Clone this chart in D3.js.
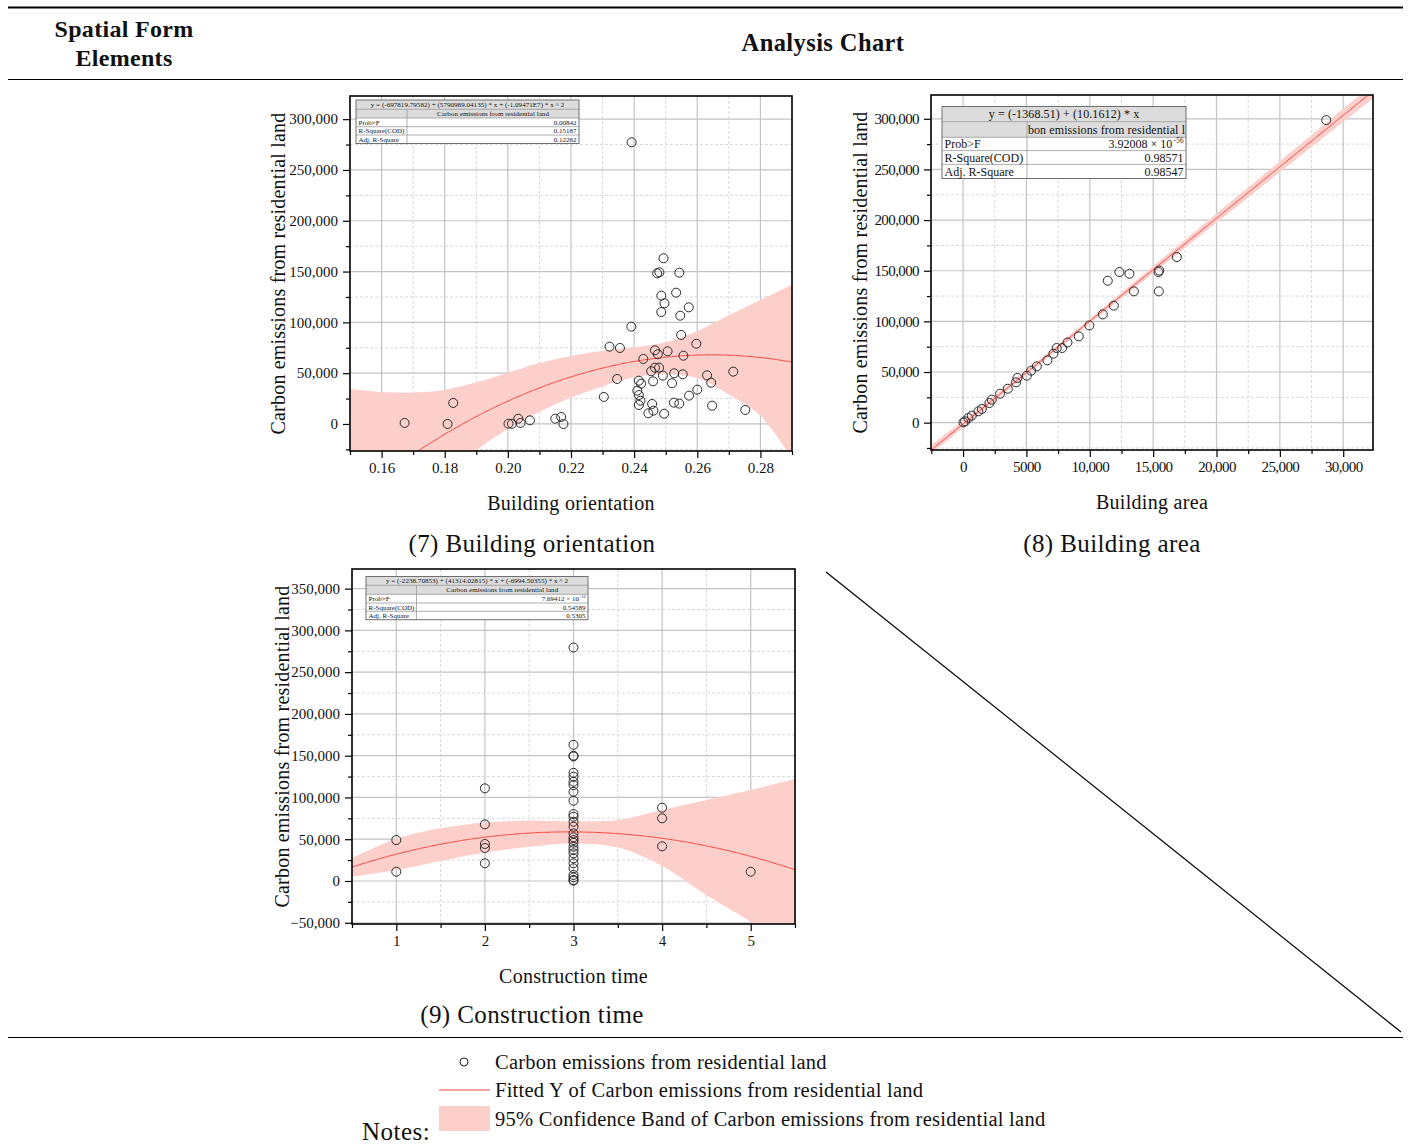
<!DOCTYPE html>
<html>
<head>
<meta charset="utf-8">
<script src="https://cdn.jsdelivr.net/npm/d3@7/dist/d3.min.js"></script>
<style>
  html, body { margin: 0; padding: 0; background: #fff; }
  svg { display: block; }
  text { font-family: "Liberation Serif", "DejaVu Serif", serif; fill: #111; }
</style>
</head>
<body>
<svg id="chart" width="1408" height="1146"></svg>
<script>
// ---------- (7) Building orientation ----------
const orientX = [0.1673, 0.1809, 0.1827, 0.2002, 0.2013, 0.2033, 0.2040, 0.2070, 0.2150, 0.2169, 0.2176,
  0.2392, 0.2493, 0.2473, 0.2480, 0.2543,
  0.2533, 0.2486, 0.2496, 0.2573, 0.2486, 0.2546, 0.2391, 0.2549, 0.2597, 0.2322, 0.2355, 0.2466,
  0.2506, 0.2475, 0.2556, 0.2429, 0.2466, 0.2479, 0.2454, 0.2491, 0.2527, 0.2554, 0.2631, 0.2346,
  0.2415, 0.2644, 0.2460, 0.2520, 0.2422, 0.2600, 0.2410, 0.2304, 0.2574, 0.2415, 0.2420, 0.2457,
  0.2415, 0.2526, 0.2543, 0.2647, 0.2461, 0.2445, 0.2495, 0.2714, 0.2752];
const orientY = [1000, 0, 20700, 300, 200, 5200, 1000, 3600, 5200, 6900, 0,
  277300, 163100, 148300, 149300, 148900,
  129200, 126300, 118800, 114800, 110200, 106600, 95800, 87600, 79000, 76100, 74800, 72500,
  71500, 68600, 67200, 64000, 55400, 55400, 51900, 47600, 49900, 48900, 47900, 44300,
  42600, 40600, 42000, 40100, 39700, 33800, 32800, 26600, 27900, 28500, 22900, 19700,
  18700, 21000, 20000, 18000, 13100, 10500, 10100, 51500, 13800];
const orientCoef = [-697819.79582, 5790989.04135, -1.09471e7];
const orientBandX = [0.15, 0.16, 0.17, 0.18, 0.19, 0.20, 0.21, 0.22, 0.23, 0.24, 0.25, 0.26, 0.27, 0.28, 0.29];
const orientBandLow = [-185000, -134000, -90000, -54000, -26000, -5000, 12000, 26000, 37000, 46000, 49000, 45000, 29000, 8000, -34000];
const orientBandHigh = [34500, 31500, 31000, 33500, 41000, 50500, 60000, 67000, 72000, 75500, 80500, 91500, 107000, 122000, 137000];
const orientXTicks = [0.16, 0.18, 0.20, 0.22, 0.24, 0.26, 0.28];
const orientYTicks = [0, 50000, 100000, 150000, 200000, 250000, 300000];
const orientStats = ["0.00842", "0.15187", "0.12262"];

// ---------- (8) Building area ----------
const areaX = [16870, 12340, 13130, 11420, 15420, 15480, 13480, 15450, 11900, 11030, 9970, 9130, 8240,
  7820, 7390, 7130, 6660, 5820, 5370, 5030, 4290, 4180, 3530, 2920, 2270, 2080, 1480, 1210, 690, 420,
  30, 160, 28660];
const areaY = [163500, 148700, 147000, 140100, 148700, 150200, 129600, 129600, 115500, 106900, 96000, 85200, 79200,
  73700, 73700, 68100, 61500, 55600, 51300, 46400, 44100, 39800, 33500, 28600, 22700, 19400, 13500, 11200, 6900, 4600,
  300, 1300, 298700];
const areaCoef = [-1368.51, 10.1612];
const areaBandX = [-2530, 0, 5000, 10000, 15000, 20000, 25000, 32500];
const areaBandLow = [-31300, -4900, 46900, 97700, 147500, 197300, 247200, 321900];
const areaBandHigh = [-22300, 2100, 51900, 102700, 154500, 206400, 258100, 335800];
const areaXTicks = [0, 5000, 10000, 15000, 20000, 25000, 30000];
const areaXTickLabels = ["0", "5000", "10,000", "15,000", "20,000", "25,000", "30,000"];
const areaYTicks = [0, 50000, 100000, 150000, 200000, 250000, 300000];
const areaStats = ["3.92008 × 10", "0.98571", "0.98547"];

// ---------- (9) Construction time ----------
const timeX = [1, 1, 2, 2, 2, 2, 2,
  3, 3, 3, 3, 3, 3, 3, 3, 3, 3, 3, 3, 3, 3, 3, 3, 3, 3, 3, 3, 3, 3, 3, 3, 3, 3, 3, 3,
  4, 4, 4, 5];
const timeY = [49000, 11100, 110900, 67800, 44300, 39500, 21200,
  279500, 163000, 149100, 150000, 129500, 124800, 118800, 114800, 106800, 96100, 80100, 76900, 70900, 65000,
  57000, 52300, 49000, 45800, 41000, 37100, 33100, 27100, 21200, 15200, 7200, 4400, 1200, 300,
  87700, 75000, 41500, 11100];
const timeCoef = [-2238.70853, 41314.02815, -6994.50355];
const timeBandX = [0.5, 1, 1.5, 2, 2.5, 3, 3.5, 4, 4.5, 5, 5.5];
const timeBandLow = [5000, 13000, 24000, 34000, 41000, 45000, 40000, 18000, -17000, -49000, -88000];
const timeBandHigh = [27500, 50500, 63000, 70000, 72500, 71500, 73000, 85000, 97000, 109000, 122000];
const timeXTicks = [1, 2, 3, 4, 5];
const timeYTicks = [-50000, 0, 50000, 100000, 150000, 200000, 250000, 300000, 350000];
const timeStats = ["7.69412 × 10", "0.54589", "0.5305"];

const seriesName = "Carbon emissions from residential land";
const statLabels = ["Prob>F", "R-Square(COD)", "Adj. R-Square"];

const BAND = "#fdcfcb";
const FIT = "#f5423c";
const GRID_MAJOR = "#c4c4c4";
const GRID_MINOR = "#d9d9d9";
const FONT = '"Liberation Serif", "DejaVu Serif", serif';

const svg = d3.select("#chart");
const fmtThousands = d3.format(",");
const poly = (c, x) => c.reduce((s, ci, i) => s + ci * Math.pow(x, i), 0);

// midpoints between major ticks for the minor ticks / dashed grid
function minorValues(major, domain) {
  const step = major[1] - major[0];
  const out = [];
  for (let v = major[0] - step / 2; v <= domain[1] + 1e-9; v += step) {
    if (v >= domain[0] - 1e-9) out.push(+v.toFixed(6));
  }
  return out;
}
function majorAll(major, domain) {
  const step = major[1] - major[0];
  const out = [];
  for (let v = major[0] - step * 5; v <= domain[1] + 1e-9; v += step) {
    if (v >= domain[0] - 1e-9) out.push(+v.toFixed(6));
  }
  return out;
}

function panel(cfg) {
  const { x, y } = cfg;
  const [x0, x1] = x.range();
  const [y0, y1] = y.range(); // y0 bottom, y1 top
  const g = svg.append("g");
  const clipId = "clip-" + cfg.id;
  g.append("clipPath").attr("id", clipId)
    .append("rect").attr("x", x0).attr("y", y1).attr("width", x1 - x0).attr("height", y0 - y1);

  // grid
  const grid = g.append("g");
  const xMinor = minorValues(cfg.xTicks, x.domain());
  const yMinor = minorValues(cfg.yTicks, y.domain());
  const xMajor = majorAll(cfg.xTicks, x.domain());
  const yMajor = majorAll(cfg.yTicks, y.domain());
  grid.selectAll(".xmin").data(xMinor).join("line")
    .attr("x1", d => x(d)).attr("x2", d => x(d)).attr("y1", y1).attr("y2", y0)
    .attr("stroke", GRID_MINOR).attr("stroke-dasharray", "3,2").attr("stroke-width", 1);
  grid.selectAll(".ymin").data(yMinor).join("line")
    .attr("y1", d => y(d)).attr("y2", d => y(d)).attr("x1", x0).attr("x2", x1)
    .attr("stroke", GRID_MINOR).attr("stroke-dasharray", "3,2").attr("stroke-width", 1);
  grid.selectAll(".xmaj").data(xMajor).join("line")
    .attr("x1", d => x(d)).attr("x2", d => x(d)).attr("y1", y1).attr("y2", y0)
    .attr("stroke", GRID_MAJOR).attr("stroke-width", 1.2);
  grid.selectAll(".ymaj").data(yMajor).join("line")
    .attr("y1", d => y(d)).attr("y2", d => y(d)).attr("x1", x0).attr("x2", x1)
    .attr("stroke", GRID_MAJOR).attr("stroke-width", 1.2);

  const plot = g.append("g").attr("clip-path", `url(#${clipId})`);

  // 95% confidence band
  const bandData = cfg.bandX.map((bx, i) => ({ x: bx, lo: cfg.bandLow[i], hi: cfg.bandHigh[i] }));
  plot.append("path").datum(bandData)
    .attr("d", d3.area().x(d => x(d.x)).y0(d => y(d.lo)).y1(d => y(d.hi)).curve(d3.curveCatmullRom))
    .attr("fill", BAND).attr("stroke", "none");

  // fitted curve from the reported coefficients
  const dom = x.domain();
  const fx = d3.range(dom[0], dom[1] + (dom[1] - dom[0]) / 400, (dom[1] - dom[0]) / 400);
  plot.append("path").datum(fx)
    .attr("d", d3.line().x(d => x(d)).y(d => y(poly(cfg.coef, d))))
    .attr("fill", "none").attr("stroke", FIT).attr("stroke-width", 1);

  // observations
  plot.selectAll("circle.pt").data(cfg.px.map((v, i) => [v, cfg.py[i]])).join("circle")
    .attr("cx", d => x(d[0])).attr("cy", d => y(d[1])).attr("r", 4.5)
    .attr("fill", "none").attr("stroke", "#2a2a2a").attr("stroke-width", 1);

  // axes: minor ticks, then major ticks with labels
  const ax = g.append("g").attr("transform", `translate(0,${y0})`);
  ax.call(d3.axisBottom(x).tickValues(xMinor).tickSize(4).tickFormat(""));
  const axM = g.append("g").attr("transform", `translate(0,${y0})`);
  axM.call(d3.axisBottom(x).tickValues(cfg.xTicks).tickSize(7).tickPadding(4)
    .tickFormat((d, i) => cfg.xLabels ? cfg.xLabels[i] : cfg.xFmt(d)));
  const ay = g.append("g").attr("transform", `translate(${x0},0)`);
  ay.call(d3.axisLeft(y).tickValues(yMinor).tickSize(4).tickFormat(""));
  const ayM = g.append("g").attr("transform", `translate(${x0},0)`);
  ayM.call(d3.axisLeft(y).tickValues(cfg.yTicks).tickSize(7).tickPadding(5)
    .tickFormat(d => d < 0 ? "\u2212" + fmtThousands(-d) : fmtThousands(d)));
  [ax, axM, ay, ayM].forEach(a => {
    a.select(".domain").remove();
    a.selectAll(".tick line").attr("stroke", "#000").attr("stroke-width", 1.2);
    a.selectAll(".tick text").attr("font-family", FONT).attr("font-size", cfg.tickFs || 15)
      .attr("fill", "#111").attr("letter-spacing", cfg.tickLs || 0);
  });

  // frame
  g.append("rect").attr("x", x0).attr("y", y1).attr("width", x1 - x0).attr("height", y0 - y1)
    .attr("fill", "none").attr("stroke", "#000").attr("stroke-width", 1.6);

  // titles
  g.append("text").attr("x", (x0 + x1) / 2).attr("y", cfg.xTitleY).attr("text-anchor", "middle")
    .attr("font-size", 20).attr("letter-spacing", 0.3).text(cfg.xTitle);
  g.append("text").attr("transform", `translate(${cfg.yTitleX},${(y0 + y1) / 2}) rotate(-90)`)
    .attr("text-anchor", "middle").attr("font-size", 20).attr("letter-spacing", 0.2).text(seriesName);
  svg.append("text").attr("x", cfg.capX).attr("y", cfg.capY).attr("text-anchor", "middle")
    .attr("font-size", 25).attr("letter-spacing", 0.4).text(cfg.caption);

  statsTable(g, cfg.table);
}

function statsTable(g, t) {
  const tg = g.append("g");
  const rows = t.rowY; // 6 boundaries
  const x0 = t.x, x1 = t.x + t.w, xc = t.x + t.col;
  tg.append("rect").attr("x", x0).attr("y", rows[0]).attr("width", t.w).attr("height", rows[5] - rows[0])
    .attr("fill", "#fff");
  tg.append("rect").attr("x", x0).attr("y", rows[0]).attr("width", t.w).attr("height", rows[2] - rows[0])
    .attr("fill", "#dcdcdc");
  for (let i = 1; i < 5; i++) {
    tg.append("line").attr("x1", x0).attr("x2", x1).attr("y1", rows[i]).attr("y2", rows[i])
      .attr("stroke", "#9a9a9a").attr("stroke-width", 0.8);
  }
  tg.append("line").attr("x1", xc).attr("x2", xc).attr("y1", rows[1]).attr("y2", rows[5])
    .attr("stroke", "#9a9a9a").attr("stroke-width", 0.8);
  tg.append("rect").attr("x", x0).attr("y", rows[0]).attr("width", t.w).attr("height", rows[5] - rows[0])
    .attr("fill", "none").attr("stroke", "#6f6f6f").attr("stroke-width", 1);

  const mid = i => (rows[i] + rows[i + 1]) / 2 + t.fs * 0.34;
  tg.append("text").attr("x", (x0 + x1) / 2).attr("y", mid(0)).attr("text-anchor", "middle")
    .attr("font-size", t.fs).attr("letter-spacing", t.ls || 0).text(t.eq);
  const cid = "tclip-" + t.id;
  tg.append("clipPath").attr("id", cid).append("rect")
    .attr("x", xc + 1).attr("y", rows[1]).attr("width", x1 - xc - 2).attr("height", rows[2] - rows[1]);
  tg.append("text").attr("clip-path", `url(#${cid})`).attr("x", (xc + x1) / 2).attr("y", mid(1))
    .attr("text-anchor", "middle").attr("font-size", t.fs).attr("letter-spacing", t.ls || 0).text(seriesName);
  statLabels.forEach((lab, i) => {
    tg.append("text").attr("x", x0 + 2.5).attr("y", mid(i + 2)).attr("font-size", t.fs).text(lab);
    const v = tg.append("text").attr("x", x1 - 2.5).attr("y", mid(i + 2)).attr("text-anchor", "end")
      .attr("font-size", t.fs);
    v.append("tspan").text(t.values[i]);
    if (i === 0 && t.sup) {
      v.append("tspan").attr("font-size", t.fs * 0.6).attr("dy", -t.fs * 0.4).text(t.sup);
    }
  });
}

// (7)
panel({
  id: "orient",
  x: d3.scaleLinear().domain([0.15, 0.29]).range([350, 792]),
  y: d3.scaleLinear().domain([-26600, 322800]).range([451, 96]),
  px: orientX, py: orientY, coef: orientCoef,
  bandX: orientBandX, bandLow: orientBandLow, bandHigh: orientBandHigh,
  xTicks: orientXTicks, yTicks: orientYTicks, xFmt: d3.format(".2f"),
  xTitle: "Building orientation", xTitleY: 510, yTitleX: 285,
  caption: "(7) Building orientation", capX: 532, capY: 552,
  table: { id: "t7", x: 356, w: 223, col: 51, rowY: [100, 109.3, 118, 126.7, 135, 143.5], fs: 7, ls: 0.05,
    eq: "y = (-697819.79582) + (5790989.04135) * x + (-1.09471E7) * x ^ 2", values: orientStats }
});

// (8)
panel({
  id: "area",
  x: d3.scaleLinear().domain([-2530, 32350]).range([931, 1373]),
  y: d3.scaleLinear().domain([-27000, 323500]).range([450, 95]),
  px: areaX, py: areaY, coef: areaCoef,
  bandX: areaBandX, bandLow: areaBandLow, bandHigh: areaBandHigh,
  xTicks: areaXTicks, xLabels: areaXTickLabels, yTicks: areaYTicks, tickLs: -0.6,
  xTitle: "Building area", xTitleY: 509, yTitleX: 867,
  caption: "(8) Building area", capX: 1112, capY: 552,
  table: { id: "t8", x: 942, w: 244, col: 85, rowY: [106.5, 121.7, 137.3, 150.6, 164.4, 178.5], fs: 12, ls: 0.1,
    eq: "y = (-1368.51) + (10.1612) * x", values: areaStats, sup: "\u221256" }
});

// (9)
panel({
  id: "time",
  x: d3.scaleLinear().domain([0.5, 5.5]).range([352, 795]),
  y: d3.scaleLinear().domain([-51500, 373500]).range([924, 569]),
  px: timeX, py: timeY, coef: timeCoef,
  bandX: timeBandX, bandLow: timeBandLow, bandHigh: timeBandHigh,
  xTicks: timeXTicks, yTicks: timeYTicks, xFmt: d3.format("d"),
  xTitle: "Construction time", xTitleY: 983, yTitleX: 289,
  caption: "(9) Construction time", capX: 532, capY: 1023,
  table: { id: "t9", x: 366, w: 222, col: 50.5, rowY: [576.5, 585.3, 594.3, 603, 611.3, 619.7], fs: 7, ls: 0.05,
    eq: "y = (-2238.70853) + (41314.02815) * x + (-6994.50355) * x ^ 2", values: timeStats, sup: "\u221210" }
});

// ---------- table frame & headings ----------
svg.append("line").attr("x1", 8).attr("x2", 1403).attr("y1", 7.5).attr("y2", 7.5)
  .attr("stroke", "#000").attr("stroke-width", 2);
svg.append("line").attr("x1", 8).attr("x2", 1403).attr("y1", 79.5).attr("y2", 79.5)
  .attr("stroke", "#000").attr("stroke-width", 1);
svg.append("line").attr("x1", 8).attr("x2", 1403).attr("y1", 1037.5).attr("y2", 1037.5)
  .attr("stroke", "#000").attr("stroke-width", 1);
svg.append("line").attr("x1", 826).attr("y1", 572).attr("x2", 1401).attr("y2", 1032)
  .attr("stroke", "#000").attr("stroke-width", 1.2);

svg.append("text").attr("x", 124).attr("y", 37).attr("text-anchor", "middle")
  .attr("font-size", 24).attr("letter-spacing", 0.3).attr("font-weight", "bold").text("Spatial Form");
svg.append("text").attr("x", 124).attr("y", 66).attr("text-anchor", "middle")
  .attr("font-size", 24).attr("letter-spacing", 0.3).attr("font-weight", "bold").text("Elements");
svg.append("text").attr("x", 823).attr("y", 51).attr("text-anchor", "middle")
  .attr("font-size", 24.5).attr("letter-spacing", 0.4).attr("font-weight", "bold").text("Analysis Chart");

// ---------- legend ----------
const legend = svg.append("g");
legend.append("circle").attr("cx", 464).attr("cy", 1062).attr("r", 4)
  .attr("fill", "none").attr("stroke", "#222").attr("stroke-width", 1);
legend.append("text").attr("x", 495).attr("y", 1069).attr("font-size", 20.5).attr("letter-spacing", 0.25)
  .text(seriesName);
legend.append("line").attr("x1", 439).attr("x2", 490).attr("y1", 1090).attr("y2", 1090)
  .attr("stroke", FIT).attr("stroke-width", 1);
legend.append("text").attr("x", 495).attr("y", 1097).attr("font-size", 20.5).attr("letter-spacing", 0.25)
  .text("Fitted Y of " + seriesName);
legend.append("rect").attr("x", 439).attr("y", 1106).attr("width", 51).attr("height", 25)
  .attr("fill", BAND);
legend.append("text").attr("x", 495).attr("y", 1126).attr("font-size", 20.5).attr("letter-spacing", 0.25)
  .text("95% Confidence Band of " + seriesName);
legend.append("text").attr("x", 362).attr("y", 1140).attr("font-size", 25).attr("letter-spacing", 0.5)
  .text("Notes:");
</script>
</body>
</html>
